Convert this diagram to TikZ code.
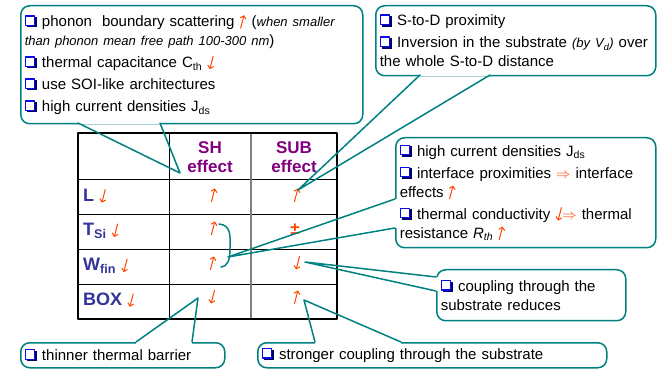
\documentclass[tikz,border=0pt]{standalone}
\usepackage{fontspec}
\setmainfont{Liberation Sans}
\usetikzlibrary{arrows.meta}
\definecolor{calloutteal}{RGB}{0,128,128}
\definecolor{arrowred}{RGB}{255,69,0}
\definecolor{hdrpurple}{RGB}{128,0,128}
\definecolor{rowblue}{RGB}{51,51,153}
\definecolor{bulletblue}{RGB}{10,10,235}
\definecolor{bulletnavy}{RGB}{0,0,110}
% small marks used inside the texts
\newcommand{\bul}{\tikz[baseline=0pt,sharp corners]{%
 \fill[bulletnavy] (2pt,-0.8pt) rectangle (12.2pt,9.6pt);
 \filldraw[fill=white,draw=bulletblue,line width=1.3pt] (0.6pt,1.4pt) rectangle (10pt,10.8pt);}\ }
\newcommand{\upar}{\tikz[baseline=0pt]\draw[arrowred,line width=1pt,line cap=round,
 -{Straight Barb[length=2.8pt,width=6pt]}] (0pt,-1.5pt) -- (3.4pt,11.5pt);}
\newcommand{\dnar}{\tikz[baseline=0pt]\draw[arrowred,line width=1pt,line cap=round,
 -{Straight Barb[length=2.8pt,width=6pt]}] (3.8pt,11.5pt) -- (0.4pt,-1.5pt);}
\newcommand{\impl}{{\color{arrowred}$\Rightarrow$}}

\begin{document}
\begin{tikzpicture}[x=1pt,y=-1pt,line cap=round,line join=round,
 note/.style={anchor=north west,draw=calloutteal,line width=1.5pt,rounded corners=9pt,
  inner xsep=4pt,inner ysep=2pt,align=left,font=\fontsize{15}{19}\selectfont},
 pointer/.style={draw=calloutteal,line width=1.5pt},
 mask/.style={draw=white,line width=3pt,line cap=butt},
 hdr/.style={font=\fontsize{17}{19.5}\selectfont\bfseries,text=hdrpurple,align=center},
 rowlab/.style={anchor=west,font=\fontsize{18}{19}\selectfont\bfseries,text=rowblue,inner sep=2pt}]
\useasboundingbox (0,0) rectangle (664,371);
% the table
\foreach \y in {179,214,249,284}
 \draw[black,line width=0.8pt] (78,\y) -- (337,\y);
\draw[black,line width=0.8pt] (169,133) -- (169,319);
\draw[gray,line width=1.5pt] (251,133) -- (251,319);
\draw[black,line width=2pt] (78,133) rectangle (337,319);
\node[hdr] (sh) at (210,157) {SH\\effect};
\node[hdr] (sub) at (294,157) {SUB\\effect};
\node[rowlab] (rL) at (81,196) {L \dnar};
\node[rowlab] (rT) at (81,231) {T\textsubscript{Si} \dnar};
\node[rowlab] (rW) at (81,266) {W\textsubscript{fin} \dnar};
\node[rowlab] (rB) at (81,300) {BOX \dnar};
\node (shL) at (214,195) {\upar};
\node (subL) at (297,195) {\upar};
\node (shT) at (214,228) {\upar};
\node[font=\fontsize{17}{19}\selectfont\bfseries,text=arrowred] (subT) at (295,229) {±};
\node (shW) at (213,263) {\upar};
\node (subW) at (297,263) {\dnar};
\node (shB) at (212,297) {\dnar};
\node (subB) at (297,297) {\upar};
% bracket joining the T_Si and W_fin SH cells
\coordinate (brTop) at (219,224);
\coordinate (brBot) at (221,267);
\draw[pointer] (brTop) .. controls (232,225) and (230,238) .. (230,248)
 .. controls (230,260) and (228,266) .. (brBot);
% callouts
\node[note,text width=334pt,minimum height=118pt] (phonon) at (20,5)
 {\bul phonon\ \ boundary scattering \upar\ ({\fontsize{13}{19}\selectfont\itshape when smaller}\\
 {\fontsize{13}{19}\selectfont\itshape than phonon mean free path 100-300 nm})\\[3pt]
 \bul thermal capacitance C\textsubscript{th} \dnar\\[3pt]
 \bul use SOI-like architectures\\[3pt]
 \bul high current densities J\textsubscript{ds}};
\node[note,text width=272pt,minimum height=70pt] (stod) at (375,5)
 {\bul S-to-D proximity\\[3pt]
 \bul Inversion in the substrate {\fontsize{13}{19}\selectfont\itshape (by V\textsubscript{d})} over\\
 the whole S-to-D distance};
\node[note,text width=252pt,minimum height=110pt] (intf) at (395,137)
 {\bul high current densities J\textsubscript{ds}\\[3pt]
 \bul interface proximities \impl\ interface\\
 effects \upar\\[3pt]
 \bul thermal conductivity \dnar\impl\ thermal\\
 resistance \textit{R\textsubscript{th}} \upar};
\node[note,text width=181pt,minimum height=51pt] (coup) at (436,269)
 {\bul coupling through the\\
 substrate reduces};
\node[note,text width=196pt,minimum height=25pt] (thin) at (20,342)
 {\bul thinner thermal barrier};
\node[note,text width=341pt,minimum height=25pt] (strong) at (257,342)
 {\bul stronger coupling through the substrate};
% pointers of the callouts
\coordinate (phononA) at (78,123);
\coordinate (phononB) at (160,123);
\coordinate (phononTip) at (180,173);
\draw[mask] (phononA) -- (phononB);
\draw[pointer] (phononA) -- (phononTip) -- (phononB);
\coordinate (stodA) at (420,75);
\coordinate (stodB) at (490,75);
\coordinate (stodTip) at (298,190);
\draw[mask] (stodA) -- (stodB);
\draw[pointer] (stodA) -- (stodTip) -- (stodB);
\coordinate (intfA) at (395,199);
\coordinate (intfB) at (395,228);
\coordinate (intfTip) at (228,257);
\draw[mask] (intfA) -- (intfB);
\draw[pointer] (intfA) -- (intfTip) -- (intfB);
\coordinate (coupA) at (436,277);
\coordinate (coupB) at (436,291);
\coordinate (coupTip) at (305,262);
\draw[mask] (coupA) -- (coupB);
\draw[pointer] (coupA) -- (coupTip) -- (coupB);
\coordinate (thinA) at (136,342);
\coordinate (thinB) at (192,342);
\coordinate (thinTip) at (198,298);
\draw[mask] (thinA) -- (thinB);
\draw[pointer] (thinA) -- (thinTip) -- (thinB);
\coordinate (strongA) at (315,342);
\coordinate (strongB) at (401,342);
\coordinate (strongTip) at (304,300);
\draw[mask] (strongA) -- (strongB);
\draw[pointer] (strongA) -- (strongTip) -- (strongB);
\end{tikzpicture}
\end{document}
